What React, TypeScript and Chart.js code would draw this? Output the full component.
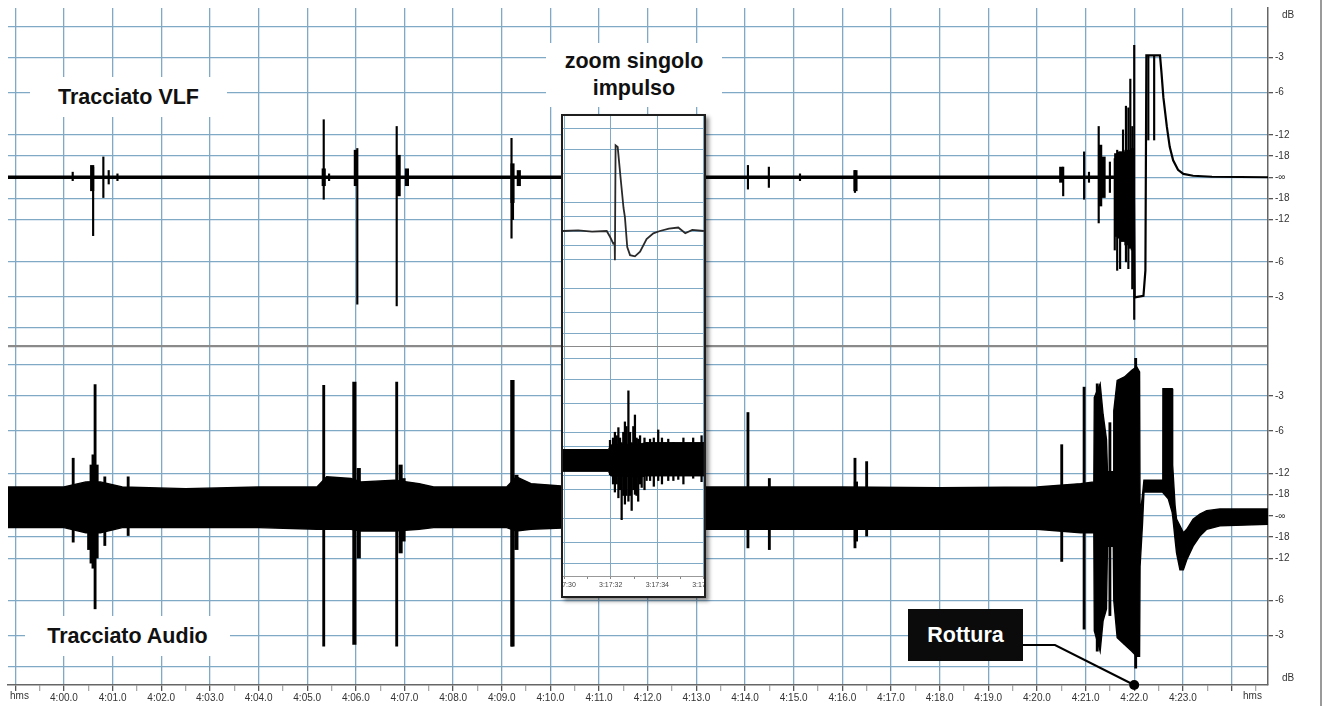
import React, { useEffect, useRef } from 'react';
import { Chart, registerables } from 'chart.js';

Chart.register(...registerables);

const FONT = '"Liberation Sans", Arial, Helvetica, sans-serif';
const GRID_BLUE = '#80a9c6';
const SEPARATOR = '#8a8a8a';

// ---------- main time axis: seconds after 4:00.0 ----------
const timeMin = -1.15;
const timeMax = 24.75;
const xTickLabels = [
  '4:00.0', '4:01.0', '4:02.0', '4:03.0', '4:04.0', '4:05.0', '4:06.0', '4:07.0',
  '4:08.0', '4:09.0', '4:10.0', '4:11.0', '4:12.0', '4:13.0', '4:14.0', '4:15.0',
  '4:16.0', '4:17.0', '4:18.0', '4:19.0', '4:20.0', '4:21.0', '4:22.0', '4:23.0',
];
const rotturaTime = 22.0;

// ---------- dB scale (linear amplitude, 0 dB = ±1) ----------
const dbLabels = ['-3', '-6', '-12', '-18'];
const dbAmps = [0.708, 0.501, 0.251, 0.126];
const dbFrameAmp = 0.891;
const dbCenterLabel = '-∞';

// ---------- VLF trace (top panel) ----------
const vlfBaselineTime = [-1.15, 21.99];
const vlfBaselineAmp = [0, 0];
const vlfBreakdownTime = [21.99, 22.01, 22.19, 22.23, 22.25, 22.53, 22.56, 22.60, 22.67, 22.73, 22.80, 22.90, 23.01, 23.21, 23.6, 24.75];
const vlfBreakdownAmp = [0, -0.71, -0.70, -0.55, 0.72, 0.72, 0.62, 0.47, 0.30, 0.18, 0.10, 0.044, 0.02, 0.009, 0.003, 0];

const vlfSpikeTime = [0.18, 0.60, 0.81, 0.92, 1.10, 5.34, 5.45, 6.03, 6.84, 9.20, 9.23, 14.06, 14.49, 15.13, 16.26, 20.54, 20.97, 21.07, 21.27, 21.50, 21.60, 21.65, 21.71, 21.77, 21.83, 21.88, 21.92, 21.96, 22.00, 22.29, 22.41];
const vlfSpikeLow = [-0.02, -0.345, -0.12, -0.04, -0.02, -0.13, -0.02, -0.75, -0.76, -0.36, -0.25, -0.07, -0.06, -0.02, -0.09, -0.11, -0.13, -0.03, -0.27, -0.09, -0.43, -0.55, -0.54, -0.30, -0.50, -0.54, -0.31, -0.66, -0.84, 0.22, 0.22];
const vlfSpikeHigh = [0.03, 0.06, 0.12, 0.04, 0.02, 0.34, 0.02, 0.17, 0.30, 0.23, 0.05, 0.07, 0.06, 0.02, 0.04, 0.06, 0.15, 0.03, 0.30, 0.09, 0.11, 0.16, 0.15, 0.28, 0.42, 0.41, 0.58, 0.30, 0.78, 0.72, 0.72];

const vlfBurstTime = [0.58, 5.34, 6.00, 6.88, 7.05, 9.22, 9.35, 16.27, 20.50, 21.30, 21.37, 21.63, 21.70, 21.77, 21.84, 21.91, 21.97];
const vlfBurstLow = [-0.08, -0.05, -0.05, -0.11, -0.05, -0.15, -0.05, -0.08, -0.03, -0.17, -0.12, -0.35, -0.36, -0.38, -0.40, -0.42, -0.43];
const vlfBurstHigh = [0.07, 0.05, 0.16, 0.13, 0.05, 0.08, 0.04, 0.04, 0.06, 0.19, 0.12, 0.14, 0.15, 0.15, 0.16, 0.16, 0.17];

// ---------- Audio trace (bottom panel) ----------
const audioBandTime = [-1.15, 0.0, 0.45, 0.75, 1.2, 2.5, 4.0, 5.2, 5.4, 5.9, 6.1, 6.8, 7.3, 7.6, 9.1, 9.3, 9.6, 10.5, 13.0, 14.0, 16.0, 18.0, 20.0, 20.9, 21.17, 21.18, 21.30, 21.36, 21.43, 21.45, 21.57, 21.58, 21.65, 21.80, 21.95, 22.05, 22.11, 22.12, 22.17, 22.20, 22.58, 22.59, 22.70, 22.78, 22.79, 22.84, 22.87, 22.94, 23.01, 23.08, 23.21, 23.35, 23.49, 23.76, 24.75];
const audioBandUpper = [0.17, 0.17, 0.2, 0.2, 0.17, 0.16, 0.17, 0.17, 0.23, 0.22, 0.2, 0.21, 0.19, 0.17, 0.17, 0.23, 0.19, 0.17, 0.17, 0.17, 0.17, 0.165, 0.17, 0.19, 0.2, 0.70, 0.78, 0.60, 0.45, 0.26, 0.26, 0.62, 0.80, 0.82, 0.86, 0.88, 0.85, 0.0, 0.12, 0.21, 0.21, 0.75, 0.75, 0.75, 0.30, 0.06, -0.02, -0.06, -0.10, -0.08, -0.02, 0.01, 0.03, 0.04, 0.04];
const audioBandLower = [-0.07, -0.07, -0.1, -0.1, -0.07, -0.07, -0.07, -0.08, -0.08, -0.08, -0.09, -0.09, -0.08, -0.07, -0.07, -0.09, -0.08, -0.07, -0.08, -0.08, -0.08, -0.08, -0.08, -0.1, -0.1, -0.68, -0.80, -0.62, -0.55, -0.18, -0.18, -0.5, -0.72, -0.76, -0.8, -0.83, -0.83, -0.3, -0.05, 0.14, 0.14, 0.14, 0.10, 0.02, 0.0, -0.14, -0.22, -0.32, -0.32, -0.26, -0.18, -0.12, -0.08, -0.06, -0.05];

const audioSpikeTime = [0.19, 0.64, 0.84, 1.32, 5.34, 6.84, 9.21, 14.06, 14.50, 16.26, 16.50, 20.51, 20.97, 21.24, 21.50, 22.03];
const audioSpikeLow = [-0.156, -0.55, -0.176, -0.117, -0.77, -0.77, -0.77, -0.19, -0.2, -0.19, -0.12, -0.27, -0.67, -0.80, -0.59, -0.90];
const audioSpikeHigh = [0.34, 0.775, 0.23, 0.23, 0.77, 0.79, 0.80, 0.61, 0.22, 0.34, 0.32, 0.42, 0.76, 0.78, 0.55, 0.93];

const audioBurstTime = [0.52, 0.57, 0.61, 0.67, 5.97, 6.06, 6.92, 6.98, 9.22, 9.30, 16.28];
const audioBurstLow = [-0.2, -0.28, -0.31, -0.25, -0.76, -0.25, -0.22, -0.15, -0.77, -0.2, -0.15];
const audioBurstHigh = [0.2, 0.3, 0.36, 0.3, 0.79, 0.28, 0.3, 0.22, 0.8, 0.24, 0.2];

// ---------- inset: "zoom singolo impulso" (seconds after 3:17:00) ----------
const insetTimeMin = 29.953;
const insetTimeMax = 36.004;
const insetTickSeconds = [30, 31, 32, 33, 34, 35, 36];
const insetTickLabels = ['3:17:30', '', '3:17:32', '', '3:17:34', '', '3:17:36'];

const insetVlfTime = [29.95, 30.6, 31.2, 31.83, 31.97, 32.11, 32.17, 32.18, 32.21, 32.30, 32.43, 32.55, 32.61, 32.71, 32.83, 33.04, 33.26, 33.54, 33.83, 34.11, 34.5, 34.9, 35.2, 35.5, 36.0];
const insetVlfAmp = [0, 0.005, -0.005, 0, -0.05, -0.11, -0.1, -0.255, 0.745, 0.73, 0.45, 0.2, 0.12, -0.14, -0.21, -0.22, -0.18, -0.07, -0.02, 0.0, 0.02, 0.03, -0.02, 0.01, 0];

const insetBandTime = [29.95, 31.9, 32.0, 33.3, 33.5, 36.0];
const insetBandUpper = [0.1, 0.1, 0.14, 0.15, 0.16, 0.16];
const insetBandLower = [-0.09, -0.09, -0.13, -0.14, -0.13, -0.13];

const insetBurstTime = [31.97, 32.10, 32.18, 32.26, 32.33, 32.40, 32.47, 32.54, 32.61, 32.68, 32.76, 32.83, 32.90, 32.97, 33.04, 33.11, 33.18, 33.26, 33.33, 33.45, 33.54, 33.69, 33.85, 34.04, 34.20, 34.47, 34.69, 34.90, 35.12, 35.54, 35.90];
const insetBurstLow = [-0.12, -0.2, -0.27, -0.2, -0.32, -0.25, -0.51, -0.3, -0.375, -0.3, -0.35, -0.3, -0.43, -0.25, -0.29, -0.3, -0.35, -0.2, -0.23, -0.25, -0.17, -0.17, -0.22, -0.17, -0.2, -0.17, -0.17, -0.16, -0.2, -0.15, -0.18];
const insetBurstHigh = [0.18, 0.2, 0.25, 0.22, 0.29, 0.2, 0.16, 0.25, 0.34, 0.3, 0.61, 0.25, 0.16, 0.3, 0.40, 0.2, 0.19, 0.22, 0.13, 0.2, 0.16, 0.19, 0.2, 0.27, 0.2, 0.19, 0.16, 0.14, 0.2, 0.2, 0.22];

// ---------- helpers ----------
const pts = (ts: number[], vs: number[]) => ts.map((t, i) => ({ x: t, y: vs[i] }));
const bars = (ts: number[], lo: number[], hi: number[]) => ts.map((t, i) => ({ x: t, y: [lo[i], hi[i]] }));

// y ticks for the stacked panels on an axis spanning [-3, 1]:
// top panel centred at 0, separator at -1, bottom panel centred at -2
function buildPanelTicks(withLabels: boolean) {
  const vals: number[] = [];
  const labs: string[] = [];
  [0, -2].forEach((off, p) => {
    vals.push(off + dbFrameAmp); labs.push('');
    dbAmps.forEach((a, i) => { vals.push(off + a); labs.push(withLabels ? dbLabels[i] : ''); });
    vals.push(off); labs.push(withLabels ? dbCenterLabel : '');
    for (let i = dbAmps.length - 1; i >= 0; i--) { vals.push(off - dbAmps[i]); labs.push(withLabels ? dbLabels[i] : ''); }
    vals.push(off - dbFrameAmp); labs.push('');
    if (p === 0) { vals.push(-1); labs.push(''); }
  });
  return { vals, labs };
}

const mainTicks = buildPanelTicks(true);
const insetTicks = buildPanelTicks(false);

const xTickValues: number[] = [];
for (let k = -2; k <= 49; k++) xTickValues.push(k / 2);

const rotturaPlugin = {
  id: 'rotturaConnector',
  afterDatasetsDraw(chart: any) {
    const { ctx, chartArea, scales } = chart;
    const x = scales.x.getPixelForValue(rotturaTime);
    const y = chartArea.bottom;
    ctx.save();
    ctx.strokeStyle = '#000';
    ctx.fillStyle = '#000';
    ctx.lineWidth = 2;
    ctx.beginPath();
    ctx.moveTo(1022, 645);
    ctx.lineTo(1055, 645);
    ctx.lineTo(x, y);
    ctx.stroke();
    ctx.beginPath();
    ctx.arc(x, y, 5, 0, Math.PI * 2);
    ctx.fill();
    ctx.restore();
  },
};

function labelBox(left: number, top: number, width: number, height: number, dark = false): React.CSSProperties {
  return {
    position: 'absolute', left, top, width, height,
    background: dark ? '#0b0b0b' : '#fff', color: dark ? '#fff' : '#111',
    display: 'flex', alignItems: 'center', justifyContent: 'center', flexDirection: 'column',
    fontFamily: FONT, fontWeight: 700, fontSize: 21.5, lineHeight: '27px', textAlign: 'center',
    whiteSpace: 'nowrap',
  };
}

const smallText = (left: number, top: number): React.CSSProperties => ({
  position: 'absolute', left, top, fontFamily: FONT, fontSize: 10, color: '#333', lineHeight: '12px',
});

export default function App() {
  const mainRef = useRef<HTMLCanvasElement | null>(null);
  const insetRef = useRef<HTMLCanvasElement | null>(null);

  useEffect(() => {
    const tickFont = { family: FONT, size: 10 };
    const main = new Chart(mainRef.current as HTMLCanvasElement, {
      type: 'line',
      data: {
        datasets: [
          { type: 'line', data: pts(vlfBaselineTime, vlfBaselineAmp), yAxisID: 'yTop', borderColor: '#000', borderWidth: 3.5, pointRadius: 0, tension: 0 },
          { type: 'line', data: pts(vlfBreakdownTime, vlfBreakdownAmp), yAxisID: 'yTop', borderColor: '#000', borderWidth: 2.2, pointRadius: 0, tension: 0 },
          { type: 'bar', data: bars(vlfSpikeTime, vlfSpikeLow, vlfSpikeHigh), yAxisID: 'yTop', backgroundColor: '#000', barThickness: 1.5, grouped: false, borderWidth: 0 },
          { type: 'bar', data: bars(vlfBurstTime, vlfBurstLow, vlfBurstHigh), yAxisID: 'yTop', backgroundColor: '#000', barThickness: 3.5, grouped: false, borderWidth: 0 },
          { type: 'line', data: pts(audioBandTime, audioBandUpper), yAxisID: 'yBot', borderColor: '#000', borderWidth: 1.4, pointRadius: 0, tension: 0, fill: false },
          { type: 'line', data: pts(audioBandTime, audioBandLower), yAxisID: 'yBot', borderColor: '#000', borderWidth: 1.4, pointRadius: 0, tension: 0, fill: '-1', backgroundColor: '#000' },
          { type: 'bar', data: bars(audioSpikeTime, audioSpikeLow, audioSpikeHigh), yAxisID: 'yBot', backgroundColor: '#000', barThickness: 2.2, grouped: false, borderWidth: 0 },
          { type: 'bar', data: bars(audioBurstTime, audioBurstLow, audioBurstHigh), yAxisID: 'yBot', backgroundColor: '#000', barThickness: 3.5, grouped: false, borderWidth: 0 },
        ] as any,
      },
      options: {
        responsive: false,
        animation: false,
        devicePixelRatio: 1,
        events: [],
        layout: { padding: { left: 8, top: 8, right: 0, bottom: 0 } },
        plugins: { legend: { display: false }, tooltip: { enabled: false } },
        scales: {
          x: {
            type: 'linear', min: timeMin, max: timeMax, offset: false,
            afterBuildTicks: (s: any) => { s.ticks = xTickValues.map(v => ({ value: v })); },
            afterFit: (s: any) => { s.height = 21; s.paddingLeft = 0; s.paddingRight = 0; },
            ticks: {
              autoSkip: false, maxRotation: 0, minRotation: 0, padding: 1, color: '#333', font: tickFont,
              callback: (v: any) => (Number.isInteger(v) && v >= 0 && v < xTickLabels.length ? xTickLabels[v] : ''),
            },
            grid: {
              offset: false, tickLength: 6, lineWidth: 1.3,
              color: (c: any) => (c.tick && Number.isInteger(c.tick.value) ? GRID_BLUE : 'rgba(0,0,0,0)'),
              tickColor: (c: any) => (c.tick && Number.isInteger(c.tick.value) ? '#555' : '#aaa'),
            },
            border: { color: '#666', width: 1.5 },
          },
          yTop: {
            type: 'linear', position: 'right', min: -3, max: 1,
            afterBuildTicks: (s: any) => { s.ticks = mainTicks.vals.map(v => ({ value: v })); },
            afterFit: (s: any) => { s.width = 55; s.paddingTop = 0; s.paddingBottom = 0; },
            ticks: { autoSkip: false, padding: 2, color: '#333', font: tickFont, callback: (_v: any, i: number) => mainTicks.labs[i] },
            grid: {
              tickLength: 5,
              color: (c: any) => (c.tick && c.tick.value === -1 ? SEPARATOR : GRID_BLUE),
              lineWidth: (c: any) => (c.tick && c.tick.value === -1 ? 2.2 : 1.3),
              tickColor: (c: any) => (mainTicks.labs[c.index] ? '#555' : 'rgba(0,0,0,0)'),
            },
            border: { color: '#666', width: 1.5 },
          },
          yBot: { type: 'linear', display: false, min: -1, max: 3 },
        },
      } as any,
      plugins: [rotturaPlugin],
    });

    const inset = new Chart(insetRef.current as HTMLCanvasElement, {
      type: 'line',
      data: {
        datasets: [
          { type: 'line', data: pts(insetVlfTime, insetVlfAmp), yAxisID: 'yTop', borderColor: '#2a2a2a', borderWidth: 1.8, pointRadius: 0, tension: 0 },
          { type: 'line', data: pts(insetBandTime, insetBandUpper), yAxisID: 'yBot', borderColor: '#000', borderWidth: 1, pointRadius: 0, tension: 0, fill: false },
          { type: 'line', data: pts(insetBandTime, insetBandLower), yAxisID: 'yBot', borderColor: '#000', borderWidth: 1, pointRadius: 0, tension: 0, fill: '-1', backgroundColor: '#000' },
          { type: 'bar', data: bars(insetBurstTime, insetBurstLow, insetBurstHigh), yAxisID: 'yBot', backgroundColor: '#000', barThickness: 1.6, grouped: false, borderWidth: 0 },
        ] as any,
      },
      options: {
        responsive: false,
        animation: false,
        devicePixelRatio: 1,
        events: [],
        layout: { padding: 0 },
        plugins: { legend: { display: false }, tooltip: { enabled: false } },
        scales: {
          x: {
            type: 'linear', min: insetTimeMin, max: insetTimeMax, offset: false,
            afterBuildTicks: (s: any) => { s.ticks = insetTickSeconds.map(v => ({ value: v })); },
            afterFit: (s: any) => { s.height = 20; s.paddingLeft = 0; s.paddingRight = 0; },
            ticks: { autoSkip: false, maxRotation: 0, minRotation: 0, padding: 2, color: '#444', font: { family: FONT, size: 7 }, callback: (_v: any, i: number) => insetTickLabels[i] },
            grid: {
              offset: false, tickLength: 3, lineWidth: 1,
              color: (c: any) => (c.tick && insetTickLabels[c.index] ? GRID_BLUE : 'rgba(0,0,0,0)'),
              tickColor: '#888',
            },
            border: { color: '#999', width: 1 },
          },
          yTop: {
            type: 'linear', position: 'left', min: -3, max: 1,
            afterBuildTicks: (s: any) => { s.ticks = insetTicks.vals.map(v => ({ value: v })); },
            afterFit: (s: any) => { s.width = 0; s.paddingTop = 0; s.paddingBottom = 0; },
            ticks: { display: false },
            grid: {
              drawTicks: false, lineWidth: 1,
              color: (c: any) => (c.tick && c.tick.value === -1 ? SEPARATOR : GRID_BLUE),
            },
            border: { display: false },
          },
          yBot: { type: 'linear', display: false, min: -1, max: 3 },
        },
      } as any,
    });

    return () => { main.destroy(); inset.destroy(); };
  }, []);

  return (
    <div style={{ position: 'fixed', left: 0, top: 0, width: 1323, height: 706, background: '#fff', overflow: 'hidden' }}>
      <canvas ref={mainRef} width={1323} height={706} style={{ position: 'absolute', left: 0, top: 0, width: 1323, height: 706 }} />
      <div style={{ position: 'absolute', left: 1320, top: 0, width: 2, height: 706, background: '#9a9a9a' }} />
      <div style={smallText(1282, 9)}>dB</div>
      <div style={smallText(1282, 672)}>dB</div>
      <div style={smallText(10, 690)}>hms</div>
      <div style={smallText(1243, 690)}>hms</div>

      <div style={labelBox(30, 77, 197, 40)}>Tracciato VLF</div>
      <div style={labelBox(25, 616, 205, 40)}>Tracciato Audio</div>
      <div style={labelBox(546, 43, 176, 64)}><span>zoom singolo</span><span>impulso</span></div>
      <div style={labelBox(908, 609, 115, 52, true)}>Rottura</div>

      <div style={{ position: 'absolute', left: 561, top: 114, width: 141, height: 480, border: '2px solid #1e1e1e', background: '#fff', boxShadow: '3px 3px 4px rgba(0,0,0,0.45)' }}>
        <canvas ref={insetRef} width={141} height={480} style={{ display: 'block', width: 141, height: 480 }} />
      </div>
    </div>
  );
}
